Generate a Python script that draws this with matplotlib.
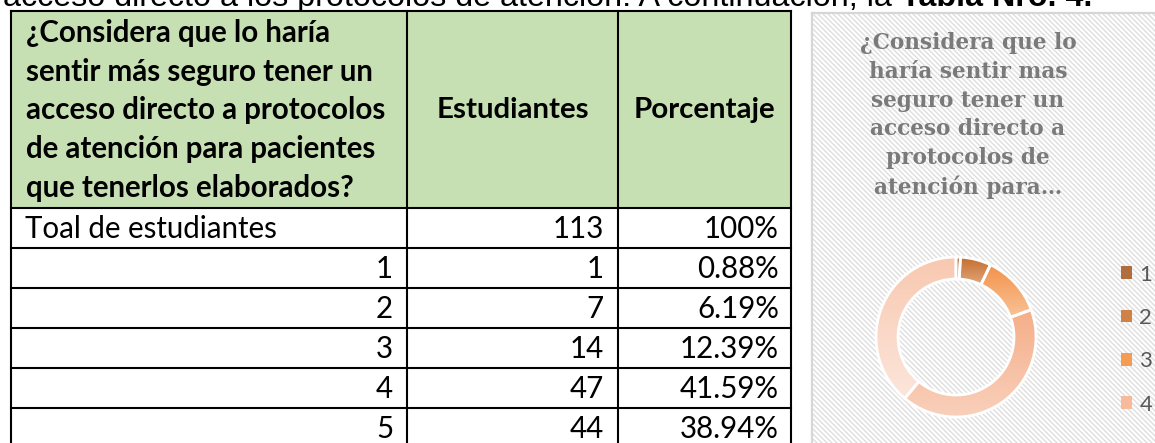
import matplotlib
matplotlib.use("Agg")
import matplotlib.pyplot as plt
import numpy as np
from matplotlib.patches import Rectangle
from matplotlib.colors import LinearSegmentedColormap
from matplotlib.collections import LineCollection

# ---------------- data ----------------
intro_text = "acceso directo a los protocolos de atención. A continuación, la "
intro_bold = "Tabla Nro. 4."
header_question = ["¿Considera que lo haría",
                   "sentir más seguro tener un",
                   "acceso directo a protocolos",
                   "de atención para pacientes",
                   "que tenerlos elaborados?"]
col_headers = ["Estudiantes", "Porcentaje"]
row_labels = ["Toal de estudiantes", "1", "2", "3", "4", "5"]
students = [113, 1, 7, 14, 47, 44]
percent_labels = ["100%", "0.88%", "6.19%", "12.39%", "41.59%", "38.94%"]

chart_title = ["¿Considera que lo", "haría sentir mas", "seguro tener un",
               "acceso directo a", "protocolos de", "atención para…"]
categories = ["1", "2", "3", "4", "5"]
values = [1, 7, 14, 47, 44]
legend_count = 4

# ---------------- style ----------------
W, H = 1155, 443
grad_top = ["#9A5829", "#C46E30", "#F3924A", "#F5AE88", "#F8C8B0"]
grad_bot = ["#C99066", "#E2A679", "#F9C296", "#F9D0BB", "#FCE6DB"]
legend_cols = ["#B06E3E", "#D08246", "#F59C52", "#F7BB9B", "#FAD7C5"]
green = "#C6E0B4"
table_font = "Lato"

fig = plt.figure(figsize=(W / 100, H / 100), dpi=100)
base = fig.add_axes([0, 0, 1, 1])
base.set_xlim(0, W)
base.set_ylim(H, 0)
base.axis("off")
renderer = fig.canvas.get_renderer()


def fit(t, target_w):
    w = t.get_window_extent(renderer).width
    t.set_fontsize(t.get_fontsize() * target_w / w)
    return t


# ---------------- intro line (clipped at top) ----------------
x_left, x_right, base_y = 3, 1090, 6
t1 = base.text(x_left, base_y, intro_text, fontsize=20, family="Liberation Sans",
               va="baseline", ha="left", color="black", zorder=0.8)
t2 = base.text(0, base_y, intro_bold, fontsize=20, family="Liberation Sans",
               fontweight="bold", va="baseline", ha="left", color="black", zorder=0.8)
w_tot = t1.get_window_extent(renderer).width + t2.get_window_extent(renderer).width
scale = (x_right - x_left) / w_tot
t1.set_fontsize(20 * scale)
t2.set_fontsize(20 * scale)
t2.set_x(t1.get_window_extent(renderer).x1)

# ---------------- table ----------------
tx0, tx1, tx2, tx3 = 11, 407, 618, 791
ty_top, ty_head = 11, 208
row_h = 40
base.add_patch(Rectangle((tx0, ty_top), tx3 - tx0, ty_head - ty_top,
                         facecolor=green, edgecolor="none", zorder=1))
n_rows = len(row_labels)
y_bottom = ty_head + row_h * n_rows
base.add_patch(Rectangle((tx0, ty_head), tx3 - tx0, y_bottom - ty_head,
                         facecolor="white", edgecolor="none", zorder=1))
lw = 1.5
for yy in [ty_top, ty_head] + [ty_head + row_h * (i + 1) for i in range(n_rows)]:
    base.plot([tx0, tx3], [yy, yy], color="black", lw=lw, zorder=3,
              solid_capstyle="projecting")
for xx in [tx0, tx1, tx2, tx3]:
    base.plot([xx, xx], [ty_top, y_bottom], color="black", lw=lw, zorder=3,
              solid_capstyle="projecting")

head_texts = []
for i, line in enumerate(header_question):
    t = base.text(26, 33 + 38.7 * i, line, fontsize=18, family=table_font,
                  fontweight="bold", va="center", ha="left", zorder=4)
    head_texts.append(t)
fit(head_texts[2], 361)
head_size = head_texts[2].get_fontsize()
for tt in head_texts:
    tt.set_fontsize(head_size)
hc = base.text((tx1 + tx2) / 2, 110, col_headers[0], fontsize=18,
               family=table_font, fontweight="bold", va="center", ha="center", zorder=4)
fit(hc, 153)
base.text((tx2 + tx3) / 2, 110, col_headers[1], fontsize=hc.get_fontsize(),
          family=table_font, fontweight="bold", va="center", ha="center", zorder=4)

body_size = None
for i, (lab, n, p) in enumerate(zip(row_labels, students, percent_labels)):
    yc = ty_head + row_h * i + row_h / 2 + 1
    if i == 0:
        t = base.text(25, yc, lab, fontsize=18, family=table_font,
                      va="center", ha="left", zorder=4)
        fit(t, 252)
        body_size = t.get_fontsize()
    else:
        base.text(tx1 - 14, yc, lab, fontsize=body_size, family=table_font,
                  va="center", ha="right", zorder=4)
    base.text(tx2 - 14, yc, str(n), fontsize=body_size, family=table_font,
              va="center", ha="right", zorder=4)
    base.text(tx3 - 12, yc, p, fontsize=body_size, family=table_font,
              va="center", ha="right", zorder=4)

# ---------------- chart area background ----------------
cx0, cy0 = 812, 13
base.add_patch(Rectangle((cx0, cy0), W - cx0 + 5, H - cy0 + 5,
                         facecolor="white", edgecolor="none", zorder=0.5))
segs = []
sp = 5.0
L = (W - cx0) + (H - cy0)
for k in np.arange(-(H - cy0), W - cx0, sp):
    x_start = cx0 + k
    segs.append([(x_start, cy0), (x_start + L, cy0 + L)])
lc = LineCollection(segs, colors="#DEDEDE", linewidths=1.0, zorder=0.6)
base.add_collection(lc)
clip = Rectangle((cx0, cy0), W - cx0, H - cy0, transform=base.transData,
                 facecolor="none", edgecolor="none")
lc.set_clip_path(clip)
base.plot([cx0, cx0], [cy0, H], color="#D6D6D6", lw=1.6, zorder=0.7)
base.plot([cx0, W], [cy0, cy0], color="#D6D6D6", lw=1.6, zorder=0.7)

# chart title
tsize = None
for i, line in enumerate(chart_title):
    t = base.text(968, 43 + 28.8 * i, line, fontsize=14, family="DejaVu Serif",
                  fontweight="bold", color="#7A7A7A", va="center", ha="center", zorder=2)
    if i == 0:
        fit(t, 217)
        tsize = t.get_fontsize()
    else:
        t.set_fontsize(tsize)

# ---------------- donut ----------------
R_px = 80
pad = 1.07
cxp, cyp = 956, 337
half = R_px * pad
ax = fig.add_axes([(cxp - half) / W, (H - cyp - half) / H, 2 * half / W, 2 * half / H])
wedges, _ = ax.pie(values, startangle=90, counterclock=False, radius=1,
                   colors=["none"] * len(values),
                   wedgeprops=dict(width=0.275, edgecolor="white", linewidth=2.0))
grad = np.linspace(0, 1, 256).reshape(-1, 1)
for w, ctop, cbot in zip(wedges, grad_top, grad_bot):
    w.set_zorder(3)
    ext = w.get_path().get_extents()
    cmap = LinearSegmentedColormap.from_list("g", [ctop, cbot])
    im = ax.imshow(grad, cmap=cmap, extent=(ext.x0, ext.x1, ext.y0, ext.y1),
                   origin="upper", aspect="auto", zorder=2, interpolation="bilinear")
    im.set_clip_path(w)
ax.set_xlim(-pad, pad)
ax.set_ylim(-pad, pad)
ax.set_aspect("equal")
ax.axis("off")
ax.patch.set_alpha(0)

handles = [Rectangle((0, 0), 1, 1, facecolor=c, edgecolor="none")
           for c in legend_cols[:legend_count]]
leg = fig.legend(handles, categories[:legend_count], loc="upper left",
                 bbox_to_anchor=(1105 / W, 1 - 249 / H), frameon=False,
                 prop={"family": table_font, "size": 16}, labelcolor="#595959",
                 handlelength=0.5, handleheight=0.5, handletextpad=0.35,
                 labelspacing=1.05, borderpad=0.2)

fig.savefig("out.png", dpi=100)
